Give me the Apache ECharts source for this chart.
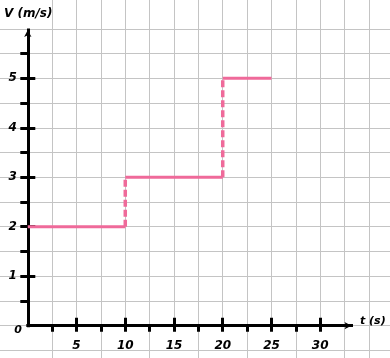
<!DOCTYPE html>
<html>
<head>
<meta charset="utf-8">
<script src="https://cdn.jsdelivr.net/npm/echarts@6/dist/echarts.min.js"></script>
<style>
html,body{margin:0;padding:0;background:#fff;}
#c{width:390px;height:358px;}
</style>
</head>
<body>
<div id="c"></div>
<script>
// ---- data ----
const segStart = [0, 10, 20];      // t where each constant-speed stage starts (s)
const segEnd   = [10, 20, 25];     // t where each stage ends (s)
const speed    = [2, 3, 5];        // V during each stage (m/s)
const xTickLabels = [5, 10, 15, 20, 25, 30];
const yTickLabels = [1, 2, 3, 4, 5];
const xTitle = 't (s)';
const yTitle = 'V (m/s)';

// ---- layout ----
const W = 390, H = 358;
const X0 = 27.8, Y0 = 325.7, KX = 9.747, KY = 49.48;
const px = v => X0 + KX * v;
const py = v => Y0 - KY * v;
function box(x1, x2, y1, y2) {
  return { left: px(x1), right: W - px(x2), top: py(y2), bottom: H - py(y1),
           containLabel: false, outerBoundsMode: 'none' };
}
const PAPER = '#c4c4c4';
const PINK = '#ef6a9a';
const INK = '#000';
const FONT = 'DejaVu Sans';
const labelFont = { fontFamily: FONT, fontWeight: 'bold', fontStyle: 'italic', color: INK };
const off = { axisLine: { show: false }, axisTick: { show: false }, axisLabel: { show: false }, splitLine: { show: false } };

const grids = [
  box(2.5, 37.5, 0, 0),          // 0 vertical paper lines
  box(0, 30, -0.5, 6),           // 1 horizontal paper lines
  box(0, 30, 0, 5),              // 2 main
  box(0, 30, 0.5, 5.5),          // 3 y outside ticks
  box(2.5, 30, 0, 5),            // 4 x outside ticks
  box(0, 33.21, 0, 5.976)        // 5 axis lines with arrows
];
// paper grids span the full picture
grids[0].top = 0; grids[0].bottom = 0;
grids[1].left = 0; grids[1].right = 0;

const xAxis = [
  Object.assign({ gridIndex: 0, type: 'value', min: 2.5, max: 37.5, interval: 2.5, position: 'bottom', z: 0 }, off,
    { splitLine: { show: true, lineStyle: { color: PAPER, width: 1 } } }),
  { gridIndex: 1, type: 'value', show: false, min: 0, max: 1 },
  Object.assign({ gridIndex: 2, type: 'value', min: 0, max: 30, interval: 5, position: 'bottom', z: 1 }, off, {
    axisLabel: Object.assign({
      show: true, fontSize: 12, margin: 4, lineHeight: 12,
      backgroundColor: '#fff', padding: [10, 2, 10, 2],
      formatter: v => xTickLabels.includes(v) ? String(v) : ''
    }, labelFont)
  }),
  Object.assign({ gridIndex: 2, type: 'value', min: 0, max: 30, interval: 5, position: 'bottom', z: 3 }, off, {
    axisTick: { show: true, inside: true, length: 8, lineStyle: { color: INK, width: 3 } }
  }),
  { gridIndex: 3, type: 'value', show: false, min: 0, max: 30 },
  Object.assign({ gridIndex: 4, type: 'value', min: 2.5, max: 30, interval: 2.5, position: 'bottom', z: 3 }, off, {
    axisTick: { show: true, inside: false, length: 6, lineStyle: { color: INK, width: 3 } }
  }),
  Object.assign({ gridIndex: 5, type: 'value', min: 0, max: 33.21, position: 'bottom', z: 3 }, off, {
    axisLine: { show: true, symbol: ['none', 'arrow'], symbolSize: [5.5, 7],
      lineStyle: { color: INK, width: 3, cap: 'square' } }
  })
];

const yAxis = [
  { gridIndex: 0, type: 'value', show: false, min: 0, max: 1 },
  Object.assign({ gridIndex: 1, type: 'value', min: -0.5, max: 6, interval: 0.5, position: 'left', z: 2 }, off,
    { splitLine: { show: true, lineStyle: { color: PAPER, width: 1 } } }),
  Object.assign({ gridIndex: 2, type: 'value', min: 0, max: 5, interval: 1, position: 'left', z: 3 }, off, {
    axisLabel: Object.assign({ show: true, fontSize: 12, margin: 11,
      formatter: v => yTickLabels.includes(v) ? String(v) : '' }, labelFont)
  }),
  Object.assign({ gridIndex: 2, type: 'value', min: 0, max: 5, interval: 1, position: 'left', z: 3 }, off, {
    axisLabel: Object.assign({ show: true, fontSize: 11, margin: 6, verticalAlign: 'top', lineHeight: 9,
      formatter: v => v === 0 ? '0' : '' }, labelFont)
  }),
  Object.assign({ gridIndex: 2, type: 'value', min: 0, max: 5, interval: 1, position: 'left', z: 3 }, off, {
    axisTick: { show: true, inside: true, length: 7.5, lineStyle: { color: INK, width: 3 } }
  }),
  Object.assign({ gridIndex: 3, type: 'value', min: 0.5, max: 5.5, interval: 0.5, position: 'left', z: 3 }, off, {
    axisTick: { show: true, inside: false, length: 7.5, lineStyle: { color: INK, width: 3 } }
  }),
  { gridIndex: 4, type: 'value', show: false, min: 0, max: 5 },
  Object.assign({ gridIndex: 5, type: 'value', min: 0, max: 5.976, position: 'left', z: 3 }, off, {
    axisLine: { show: true, symbol: ['none', 'arrow'], symbolSize: [5.5, 7],
      lineStyle: { color: INK, width: 3, cap: 'square' } }
  })
];

const series = [];
const lineBase = { type: 'line', xAxisIndex: 2, yAxisIndex: 2, symbol: 'none', showSymbol: false,
                   clip: false, silent: true, z: 4, animation: false };
for (let i = 0; i < speed.length; i++) {
  series.push(Object.assign({}, lineBase, {
    data: [[segStart[i], speed[i]], [segEnd[i], speed[i]]],
    lineStyle: { color: PINK, width: 3, type: 'solid' }
  }));
  if (i > 0) {
    series.push(Object.assign({}, lineBase, {
      data: [[segStart[i], speed[i - 1]], [segStart[i], speed[i]]],
      lineStyle: { color: PINK, width: 3.5, type: [7, 3] }
    }));
  }
}

const chart = echarts.init(document.getElementById('c'), null, { renderer: 'canvas' });
chart.setOption({
  backgroundColor: '#fff',
  animation: false,
  grid: grids,
  xAxis: xAxis,
  yAxis: yAxis,
  series: series,
  graphic: [
    { type: 'text', left: 4, top: 8, z: 10,
      style: { text: yTitle, font: 'italic bold 12px "DejaVu Sans"', fill: INK } },
    { type: 'text', left: 360, top: 316, z: 10,
      style: { text: xTitle, font: 'italic bold 11px "DejaVu Sans"', fill: INK } }
  ]
});
</script>
</body>
</html>
